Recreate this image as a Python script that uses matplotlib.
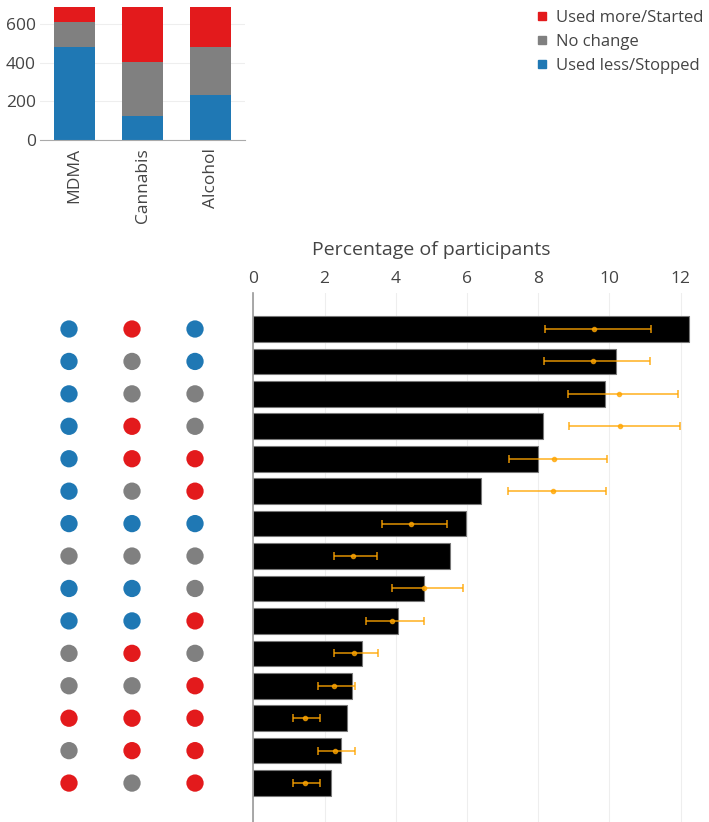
import matplotlib
matplotlib.use("Agg")
import matplotlib.pyplot as plt
from matplotlib.lines import Line2D

plt.rcParams['font.family'] = ['Open Sans', 'DejaVu Sans']

# top stacked bars: counts of participants per drug
drugs = ['MDMA', 'Cannabis', 'Alcohol']
less = [483, 124, 233]
nochange = [129, 281, 248]
more = [78, 285, 209]

# combination patterns (MDMA, Cannabis, Alcohol): L = less, N = no change, M = more
patterns = [
    ('L', 'M', 'L'), ('L', 'N', 'L'), ('L', 'N', 'N'), ('L', 'M', 'N'),
    ('L', 'M', 'M'), ('L', 'N', 'M'), ('L', 'L', 'L'), ('N', 'N', 'N'),
    ('L', 'L', 'N'), ('L', 'L', 'M'), ('N', 'M', 'N'), ('N', 'N', 'M'),
    ('M', 'M', 'M'), ('N', 'M', 'M'), ('M', 'N', 'M'),
]
pct = [12.23, 10.19, 9.89, 8.15, 8.01, 6.40, 5.97, 5.53, 4.80, 4.07,
       3.05, 2.77, 2.62, 2.47, 2.18]
est = [9.58, 9.54, 10.26, 10.30, 8.45, 8.43, 4.43, 2.81, 4.79, 3.90,
       2.82, 2.28, 1.44, 2.29, 1.44]
est_lo = [8.19, 8.17, 8.83, 8.87, 7.17, 7.15, 3.62, 2.27, 3.90, 3.16,
          2.28, 1.81, 1.11, 1.82, 1.11]
est_hi = [11.17, 11.13, 11.93, 11.98, 9.94, 9.92, 5.44, 3.48, 5.88, 4.80,
          3.51, 2.85, 1.87, 2.86, 1.87]

colors = {'M': '#e31a1c', 'N': '#808080', 'L': '#1f78b4'}
labels = {'M': 'Used more/Started', 'N': 'No change', 'L': 'Used less/Stopped'}
txt = '#444444'

W, H = 709, 822
fig = plt.figure(figsize=(W / 100, H / 100), dpi=100)

# ---- top stacked bar chart
ax1 = fig.add_axes([40 / W, 1 - 140 / H, 205 / W, 133.3 / H])
x = range(len(drugs))
ax1.bar(x, less, width=0.6, color=colors['L'], zorder=2)
ax1.bar(x, nochange, width=0.6, bottom=less, color=colors['N'], zorder=2)
bot2 = [a + b for a, b in zip(less, nochange)]
ax1.bar(x, more, width=0.6, bottom=bot2, color=colors['M'], zorder=2)
ax1.set_xlim(-0.5, 2.5)
ax1.set_ylim(0, 690)
ax1.set_yticks([0, 200, 400, 600])
ax1.set_xticks(list(x))
ax1.set_xticklabels(drugs, rotation=90, va='top')
ax1.tick_params(axis='both', length=0, labelsize=12.5, colors=txt)
ax1.tick_params(axis='x', pad=6)
ax1.tick_params(axis='y', pad=3)
ax1.grid(axis='y', color='#eeeeee', lw=0.8, zorder=0)
for s in ['top', 'right', 'left']:
    ax1.spines[s].set_visible(False)
ax1.spines['bottom'].set_color('#aaaaaa')

handles = [Line2D([], [], marker='s', ls='', color=colors[k], markersize=6)
           for k in ['M', 'N', 'L']]
fig.legend(handles, [labels[k] for k in ['M', 'N', 'L']], loc='upper left',
           bbox_to_anchor=(530 / W, 1 - 3 / H), frameon=False, fontsize=12,
           handlelength=0.6, handletextpad=0.55, labelspacing=0.5,
           labelcolor=txt, borderaxespad=0)

# ---- dot matrix for combinations
n = len(patterns)
ax2 = fig.add_axes([0, 0, 253.3 / W, 529 / H])
for i, pat in enumerate(patterns):
    for j, k in enumerate(pat):
        ax2.scatter(j, i, s=155, color=colors[k], edgecolors='none', zorder=3)
ax2.set_xlim(-1.095, 2.925)
ax2.set_ylim(n - 1 + 1.2, -1.11)
ax2.axis('off')

# ---- horizontal bars with estimate intervals
ax3 = fig.add_axes([253.3 / W, 0, (W - 253.3) / W, 529 / H])
ypos = list(range(n))
ax3.barh(ypos, pct, height=0.79, color='black', edgecolor='#777777',
         lw=0.8, zorder=2)
xerr = [[e - l for e, l in zip(est, est_lo)], [h - e for e, h in zip(est, est_hi)]]
ax3.errorbar(est, ypos, xerr=xerr, fmt='o', color='#ffa500', ecolor='#ffa500',
             markersize=3, elinewidth=1.3, capsize=3, capthick=1.3,
             alpha=0.75, zorder=3)
ax3.set_xlim(0, 12.8)
ax3.set_ylim(n - 1 + 1.2, -1.11)
ax3.xaxis.tick_top()
ax3.set_xticks([0, 2, 4, 6, 8, 10, 12])
ax3.set_yticks([])
ax3.tick_params(axis='x', length=0, labelsize=12.5, colors=txt, pad=4)
ax3.grid(axis='x', color='#eeeeee', lw=0.8, zorder=0)
for s in ['top', 'right', 'bottom']:
    ax3.spines[s].set_visible(False)
ax3.spines['left'].set_color('#999999')
ax3.spines['left'].set_linewidth(1.2)
fig.text(431 / W, 1 - 250 / H, 'Percentage of participants', ha='center',
         va='center', fontsize=14, color=txt)

fig.savefig('out.png', dpi=100)
